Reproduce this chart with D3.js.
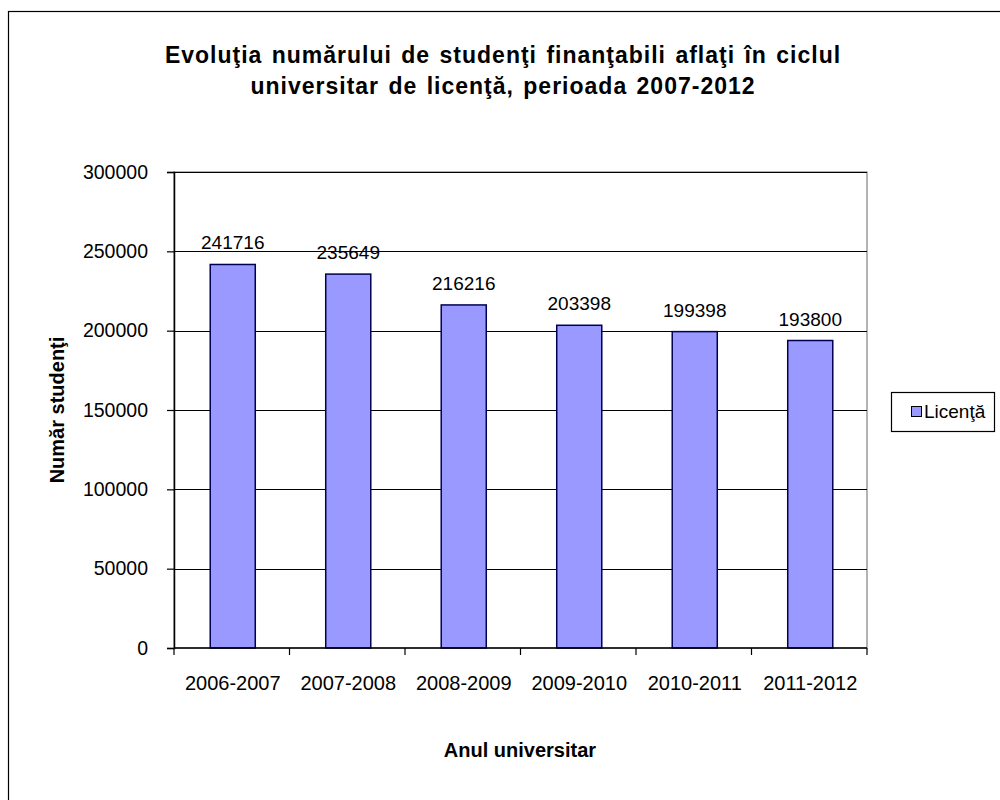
<!DOCTYPE html>
<html>
<head>
<meta charset="utf-8">
<script src="https://cdn.jsdelivr.net/npm/d3@7"></script>
<style>
	body { margin: 0; background: #fff; }
	text { font-family: "Liberation Sans", Arial, sans-serif; fill: #000; }
</style>
</head>
<body>
<svg id="chart" width="1000" height="800"></svg>
<script>
var years = ["2006-2007", "2007-2008", "2008-2009", "2009-2010", "2010-2011", "2011-2012"];
var students = [241716, 235649, 216216, 203398, 199398, 193800];
var yTicks = [0, 50000, 100000, 150000, 200000, 250000, 300000];
var titleLines = ["Evoluţia numărului de studenţi finanţabili aflaţi în ciclul", "universitar de licenţă, perioada 2007-2012"];
var seriesName = "Licenţă";

var svg = d3.select("#chart");
var plotL = 174, plotR = 867, plotT = 172, plotB = 648;

// outer chart border (runs off the right and bottom)
svg.append("rect").attr("x", 8.5).attr("y", 11.5).attr("width", 1000).attr("height", 800)
	.attr("fill", "#fff").attr("stroke", "#000").attr("stroke-width", 1.2);

var x = d3.scaleBand().domain(years).range([plotL, plotR]).paddingInner(0).paddingOuter(0);
var y = d3.scaleLinear().domain([0, 300000]).range([plotB, plotT]);

// plot area
svg.append("rect").attr("x", plotL).attr("y", plotT).attr("width", plotR - plotL).attr("height", plotB - plotT)
	.attr("fill", "#fff").attr("stroke", "#808080").attr("stroke-width", 1.2);

// gridlines
svg.append("g").selectAll("line").data(yTicks.slice(1)).enter().append("line")
	.attr("x1", plotL).attr("x2", plotR)
	.attr("y1", function(d) { return Math.round(y(d)) + 0.5; })
	.attr("y2", function(d) { return Math.round(y(d)) + 0.5; })
	.attr("stroke", "#000").attr("stroke-width", 1.2);

// bars
var barW = x.bandwidth() * 0.39;
svg.append("g").selectAll("rect").data(students).enter().append("rect")
	.attr("x", function(d, i) { return x(years[i]) + x.bandwidth() / 2 - barW / 2 + 1; })
	.attr("y", function(d) { return y(d); })
	.attr("width", barW)
	.attr("height", function(d) { return plotB - y(d); })
	.attr("fill", "#9999ff").attr("stroke", "#000050").attr("stroke-width", 1.5);

// value labels
svg.append("g").selectAll("text").data(students).enter().append("text")
	.attr("x", function(d, i) { return x(years[i]) + x.bandwidth() / 2 + 1; })
	.attr("y", function(d) { return y(d) - 15; })
	.attr("text-anchor", "middle").attr("font-size", 19)
	.text(function(d) { return d; });

// y axis
var yAxis = d3.axisLeft(y).tickValues(yTicks).tickSize(7).tickPadding(19).tickFormat(d3.format("d"));
var gy = svg.append("g").attr("transform", "translate(" + plotL + ",0)").call(yAxis);
gy.select(".domain").attr("stroke", "#000").attr("stroke-width", 1.5);
gy.selectAll(".tick line").attr("stroke", "#000").attr("stroke-width", 1.2);
gy.selectAll(".tick text").attr("font-size", 19.5).attr("font-family", "Liberation Sans, Arial, sans-serif").attr("fill", "#000");

// x axis: ticks at category boundaries
var gx = svg.append("g").attr("transform", "translate(0," + plotB + ")");
gx.append("line").attr("x1", plotL).attr("x2", plotR).attr("stroke", "#000").attr("stroke-width", 1.5);
var bounds = years.map(function(d) { return x(d); }).concat([plotR]);
gx.selectAll(".bt").data(bounds).enter().append("line").attr("class", "bt")
	.attr("x1", function(d) { return d; }).attr("x2", function(d) { return d; })
	.attr("y1", 0).attr("y2", 7).attr("stroke", "#000").attr("stroke-width", 1.2);
gx.selectAll("text").data(years).enter().append("text")
	.attr("x", function(d) { return x(d) + x.bandwidth() / 2 + 1; })
	.attr("y", 42).attr("text-anchor", "middle").attr("font-size", 20)
	.text(function(d) { return d; });

// title
svg.append("g").selectAll("text").data(titleLines).enter().append("text")
	.attr("x", 503).attr("y", function(d, i) { return 63 + i * 31; })
	.attr("text-anchor", "middle").attr("font-size", 23).attr("font-weight", "bold")
	.attr("letter-spacing", 1).attr("word-spacing", 2)
	.text(function(d) { return d; });

// axis titles
svg.append("text").attr("x", 520).attr("y", 757).attr("text-anchor", "middle")
	.attr("font-size", 20).attr("font-weight", "bold").text("Anul universitar");
svg.append("text").attr("transform", "translate(64," + ((plotT + plotB) / 2) + ") rotate(-90)")
	.attr("text-anchor", "middle").attr("font-size", 20).attr("font-weight", "bold").text("Număr studenţi");

// legend
var lg = svg.append("g");
lg.append("rect").attr("x", 891.5).attr("y", 392.5).attr("width", 103).attr("height", 39)
	.attr("fill", "#fff").attr("stroke", "#000").attr("stroke-width", 1.2);
lg.append("rect").attr("x", 911.5).attr("y", 406.5).attr("width", 10).attr("height", 10)
	.attr("fill", "#9999ff").attr("stroke", "#000").attr("stroke-width", 1);
lg.append("text").attr("x", 924).attr("y", 418).attr("font-size", 19).text(seriesName);
</script>
</body>
</html>
